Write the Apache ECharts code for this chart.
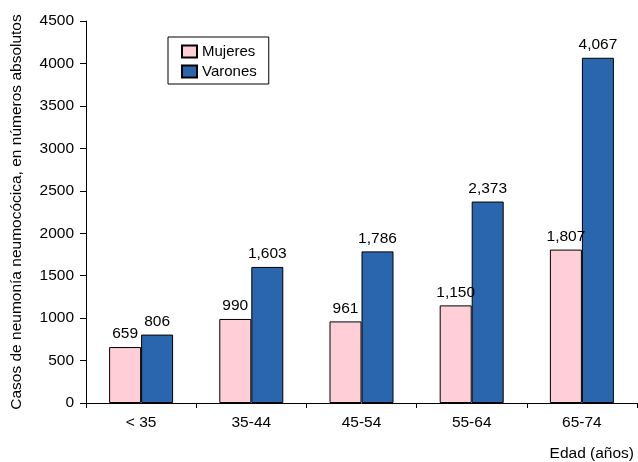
<!DOCTYPE html>
<html>
<head>
<meta charset="utf-8">
<script src="https://cdn.jsdelivr.net/npm/echarts@6/dist/echarts.min.js"></script>
<style>html,body{margin:0;padding:0;background:#fff}#c{width:638px;height:462px}</style>
</head>
<body>
<div id="c"></div>
<script>
const categories = ['< 35', '35-44', '45-54', '55-64', '65-74'];
const mujeres = [659, 990, 961, 1150, 1807];
const varones = [806, 1603, 1786, 2373, 4067];
const yTicks = [0, 500, 1000, 1500, 2000, 2500, 3000, 3500, 4000, 4500];

const font = 'Liberation Sans, Arial, sans-serif';
const fs = 15.5;
const fmt = v => v.toLocaleString('en-US');

const chart = echarts.init(document.getElementById('c'), null, {renderer: 'canvas'});
const labelStyle = {
  show: true, position: 'top', distance: 5, color: '#000',
  fontFamily: font, fontSize: fs, formatter: p => fmt(p.value)
};
chart.setOption({
  animation: false,
  backgroundColor: '#fff',
  grid: {left: 86, right: 1, top: 21, bottom: 59, containLabel: false},
  legend: {
    orient: 'vertical', left: 168, top: 37,
    icon: 'rect',
    itemWidth: 15, itemHeight: 12, itemGap: 5,
    padding: [7, 12, 5, 13],
    borderColor: '#000', borderWidth: 1,
    textStyle: {fontFamily: font, fontSize: 15, color: '#000'},
    data: ['Mujeres', 'Varones']
  },
  xAxis: {
    type: 'category', data: categories,
    axisLine: {lineStyle: {color: '#000', width: 1}},
    axisTick: {show: true, alignWithLabel: false, length: 5, lineStyle: {color: '#000'}},
    axisLabel: {color: '#000', fontFamily: font, fontSize: fs, margin: 12},
    name: 'Edad (años)', nameLocation: 'end',
    nameGap: 0,
    nameTextStyle: {fontFamily: font, fontSize: fs, color: '#000', align: 'right', verticalAlign: 'top', padding: [43, 3, 0, 0]}
  },
  yAxis: {
    type: 'value', min: yTicks[0], max: yTicks[yTicks.length - 1], interval: 500,
    axisLine: {show: true, lineStyle: {color: '#000', width: 1}},
    axisTick: {show: true, length: 6, lineStyle: {color: '#000'}},
    splitLine: {show: false},
    axisLabel: {color: '#000', fontFamily: font, fontSize: fs, margin: 12, formatter: v => String(v)},
    name: 'Casos de neumonía neumocócica, en números absolutos',
    nameLocation: 'middle', nameGap: 61,
    nameTextStyle: {fontFamily: font, fontSize: fs, color: '#000'}
  },
  series: [
    {
      name: 'Mujeres', type: 'bar', data: mujeres, barWidth: 32, barGap: '0%',
      itemStyle: {color: '#FFCED7', borderColor: '#000', borderWidth: 1},
      label: labelStyle
    },
    {
      name: 'Varones', type: 'bar', data: varones, barWidth: 32, barGap: '0%',
      itemStyle: {color: '#2A66AE', borderColor: '#000', borderWidth: 1},
      label: labelStyle
    }
  ]
});
</script>
</body>
</html>
